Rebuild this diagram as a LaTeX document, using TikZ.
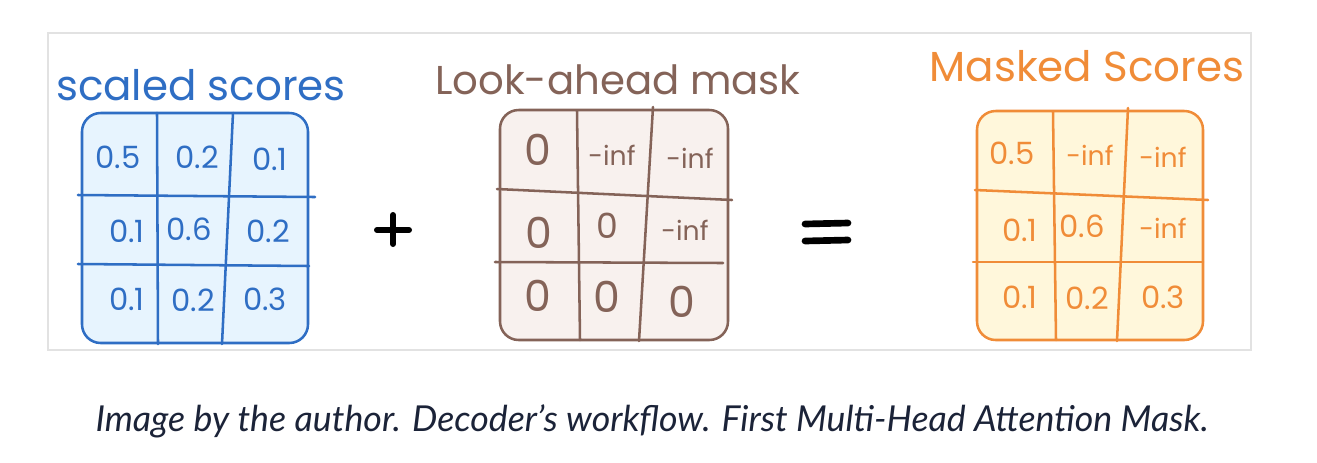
\documentclass[tikz,border=0pt]{standalone}
\usepackage{fontspec}
\setmainfont{Poppins}
\newfontfamily\capfont{Lato}
\definecolor{scoreblue}{HTML}{2F6EC4}
\definecolor{scorefill}{HTML}{E7F4FE}
\definecolor{maskbrown}{HTML}{846358}
\definecolor{maskfill}{HTML}{F8F1EE}
\definecolor{outorange}{HTML}{F08C38}
\definecolor{outfill}{HTML}{FFF7DB}
\definecolor{framegray}{HTML}{E2E2E2}
\definecolor{capnavy}{HTML}{1B2338}
\begin{document}
\begin{tikzpicture}[x=0.75pt,y=-0.75pt,
  title/.style={font=\fontsize{31.5}{31.5}\selectfont},
  cell/.style={font=\fontsize{23}{23}\selectfont},
  infcell/.style={font=\fontsize{20}{20}\selectfont},
  zero/.style={font=\fontsize{32}{32}\selectfont},
  grid/.style={line width=1.9pt,line cap=round}]
\useasboundingbox (0,0) rectangle (1317,462);
\draw[framegray,line width=1.2pt] (48,33) rectangle (1251,350);
% scaled scores
\node[title,scoreblue] (scaledT) at (201,85) {scaled scores};
\draw[grid,scoreblue,fill=scorefill,rounded corners=14pt] (82,113) rectangle (308,343);
\draw[grid,scoreblue] (157,113) -- (158,344);
\draw[grid,scoreblue] (233,113) -- (222,344);
\draw[grid,scoreblue] (78,195) -- (315,197);
\draw[grid,scoreblue] (78,264) -- (309,266);
\node[cell,scoreblue] (s11) at (118,157) {0.5};
\node[cell,scoreblue] (s12) at (197,157) {0.2};
\node[cell,scoreblue] (s13) at (270,159) {0.1};
\node[cell,scoreblue] (s21) at (127,231) {0.1};
\node[cell,scoreblue] (s22) at (189,229) {0.6};
\node[cell,scoreblue] (s23) at (268,231) {0.2};
\node[cell,scoreblue] (s31) at (127,299) {0.1};
\node[cell,scoreblue] (s32) at (193,300) {0.2};
\node[cell,scoreblue] (s33) at (265,299) {0.3};
% plus
\draw[line width=4.5pt,line cap=round] (377,230) -- (409,230);
\draw[line width=4.5pt,line cap=round] (393,215) -- (393,244);
% look-ahead mask
\node[title,maskbrown,font=\fontsize{30.2}{30.2}\selectfont] (maskT) at (618,80) {Look-ahead mask};
\draw[grid,maskbrown,fill=maskfill,rounded corners=14pt] (500,110) rectangle (728,340);
\draw[grid,maskbrown] (577,111) -- (580,340);
\draw[grid,maskbrown] (653,107) -- (639,341);
\draw[grid,maskbrown] (497,189) -- (732,200);
\draw[grid,maskbrown] (495,262) -- (723,263);
\node[zero,maskbrown] (m11) at (538,150) {0};
\node[infcell,maskbrown] (m12) at (612,155) {-inf};
\node[infcell,maskbrown] (m13) at (690,158) {-inf};
\node[zero,maskbrown] (m21) at (539,233) {0};
\node[zero,maskbrown,font=\fontsize{26}{26}\selectfont] (m22) at (607,226) {0};
\node[infcell,maskbrown] (m23) at (685,230) {-inf};
\node[zero,maskbrown] (m31) at (538,296) {0};
\node[zero,maskbrown] (m32) at (607,297) {0};
\node[zero,maskbrown] (m33) at (682,302) {0};
% equals
\draw[line width=5pt,line cap=round] (805,224) -- (848,223);
\draw[line width=5pt,line cap=round] (805,241) -- (848,240);
% masked scores
\node[title,outorange] (maskedT) at (1087,66) {Masked Scores};
\draw[grid,outorange,fill=outfill,rounded corners=14pt] (977,111) rectangle (1203,340);
\draw[grid,outorange] (1053,112) -- (1056,340);
\draw[grid,outorange] (1128,108) -- (1117,341);
\draw[grid,outorange] (975,190) -- (1208,200);
\draw[grid,outorange] (973,262) -- (1203,262);
\node[cell,outorange] (r11) at (1012,153) {0.5};
\node[infcell,outorange] (r12) at (1090,155) {-inf};
\node[infcell,outorange] (r13) at (1163,157) {-inf};
\node[cell,outorange] (r21) at (1020,230) {0.1};
\node[cell,outorange] (r22) at (1082,226) {0.6};
\node[infcell,outorange] (r23) at (1163,228) {-inf};
\node[cell,outorange] (r31) at (1020,297) {0.1};
\node[cell,outorange] (r32) at (1087,298) {0.2};
\node[cell,outorange] (r33) at (1163,297) {0.3};
% caption
\node[capnavy,font=\capfont\itshape\fontsize{26.8}{26.8}\selectfont] (caption) at (652,421)
  {Image by the author. Decoder’s workflow. First Multi-Head Attention Mask.};
\end{tikzpicture}
\end{document}
